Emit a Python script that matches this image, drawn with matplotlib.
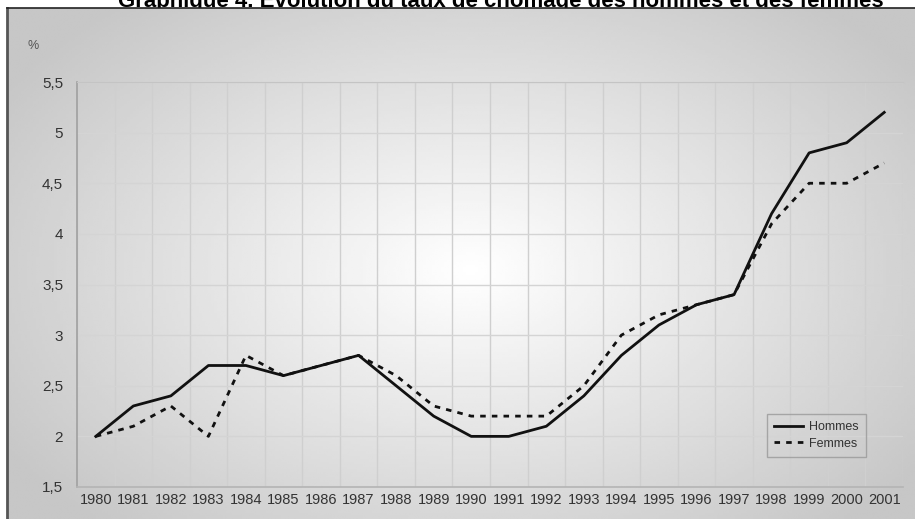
import numpy as np
import matplotlib.pyplot as plt

# Data
years = [str(y) for y in range(1980, 2002)]
hommes = [2.0, 2.3, 2.4, 2.7, 2.7, 2.6, 2.7, 2.8, 2.5, 2.2, 2.0,
          2.0, 2.1, 2.4, 2.8, 3.1, 3.3, 3.4, 4.2, 4.8, 4.9, 5.2]
femmes = [2.0, 2.1, 2.3, 2.0, 2.8, 2.6, 2.7, 2.8, 2.6, 2.3, 2.2,
          2.2, 2.2, 2.5, 3.0, 3.2, 3.3, 3.4, 4.1, 4.5, 4.5, 4.7]
yticks = [1.5, 2, 2.5, 3, 3.5, 4, 4.5, 5, 5.5]
ytick_labels = ['1,5', '2', '2,5', '3', '3,5', '4', '4,5', '5', '5,5']

W, H = 915, 519
fig = plt.figure(figsize=(W / 100, H / 100), dpi=100)
plt.rcParams['font.family'] = ['Liberation Sans', 'DejaVu Sans']

# Title (top part cut off by the frame edge, as in the original)
fig.text(0.547, 1 - 7 / H, 'Graphique 4. Évolution du taux de chômage des hommes et des femmes',
         ha='center', va='baseline', fontsize=16, fontweight='bold', zorder=-1)

# Gray panel with radial light gradient
bg = fig.add_axes([7 / W, 0, 1 - 7 / W, 1 - 8 / H])
xx, yy = np.meshgrid(np.linspace(7, W, 300), np.linspace(8, H, 200))
d = np.sqrt(((xx - 470) / 520) ** 2 + ((yy - 270) / 330) ** 2)
shade = 1.0 - 0.22 * np.clip(d, 0, 1.05) / 1.05
bg.imshow(shade, cmap='gray', vmin=0, vmax=1, aspect='auto',
          extent=[0, 1, 0, 1], interpolation='bilinear')
bg.set_xlim(0, 1)
bg.set_ylim(0, 1)
bg.set_xticks([])
bg.set_yticks([])
for s in ['right', 'bottom']:
    bg.spines[s].set_visible(False)
bg.spines['left'].set_color('#555555')
bg.spines['left'].set_linewidth(2)
bg.spines['top'].set_color('#222222')
bg.spines['top'].set_linewidth(1.2)

# Main plot
ax = fig.add_axes([77 / W, 32 / H, 826 / W, 405 / H])
ax.patch.set_alpha(0)
x = np.arange(len(years))
ax.plot(x, hommes, color='#111111', lw=2, label='Hommes', solid_joinstyle='round')
ax.plot(x, femmes, color='#111111', lw=2, linestyle=(0, (2, 2.2)), label='Femmes')

ax.set_xlim(-0.5, len(years) - 0.5)
ax.set_ylim(1.5, 5.5)
ax.set_xticks(x)
ax.set_xticklabels(years, fontsize=10.5, color='#333333')
ax.set_yticks(yticks)
ax.set_yticklabels(ytick_labels, fontsize=11, color='#333333')
ax.set_xticks(np.arange(-0.5, len(years)), minor=True)
ax.tick_params(axis='both', which='both', length=0)
ax.tick_params(axis='x', pad=4)
ax.tick_params(axis='y', pad=10)
ax.grid(True, axis='x', which='minor', color='#cfcfcf', lw=1)
ax.grid(True, axis='y', which='major', color='#d4d4d4', lw=1)
ax.grid(False, axis='x', which='major')
ax.spines['top'].set_color('#c4c4c4')
ax.spines['right'].set_visible(False)
ax.spines['left'].set_color('#a0a0a0')
ax.spines['bottom'].set_color('#b4b4b4')
ax.spines['left'].set_linewidth(1.2)
ax.spines['bottom'].set_linewidth(1.2)

fig.text(27 / W, 1 - 46 / H, '%', fontsize=9, color='#555555', va='center')

leg = ax.legend(loc='lower left', bbox_to_anchor=(0.835, 0.074), fontsize=9,
                frameon=True, fancybox=False, edgecolor='#999999',
                handlelength=2.3, borderpad=0.6, labelspacing=0.35, handletextpad=0.5,
                borderaxespad=0)
leg.get_frame().set_facecolor('none')
for t in leg.get_texts():
    t.set_color('#333333')

plt.savefig('out.png', dpi=100)
